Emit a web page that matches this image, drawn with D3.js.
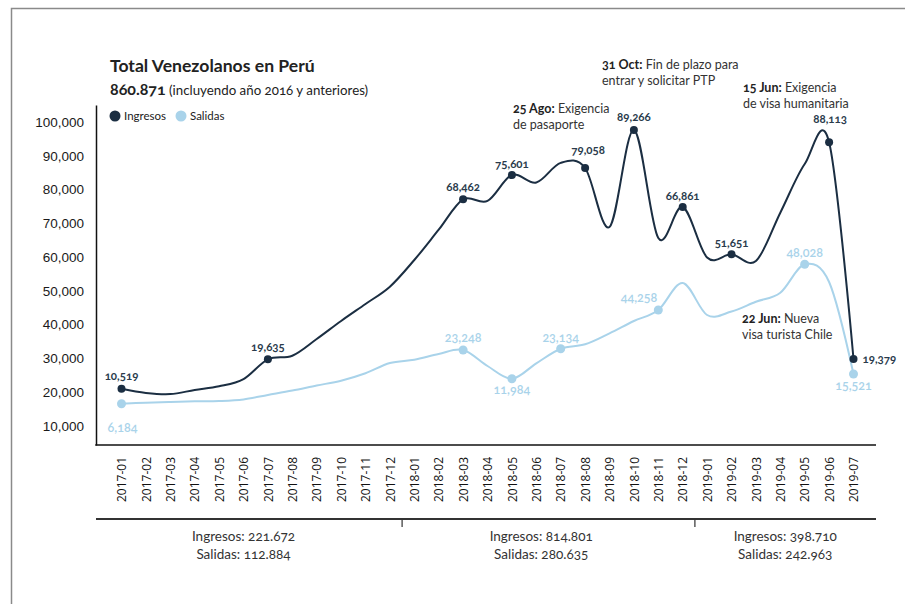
<!DOCTYPE html>
<html>
<head>
<meta charset="utf-8">
<script src="https://cdn.jsdelivr.net/npm/d3@7"></script>
<style>
  body { margin: 0; background: #fff; }
  svg { font-family: Lato, "Noto Sans", sans-serif; font-feature-settings: "onum"; }
  .xtick text { font-family: "Open Sans", sans-serif; font-feature-settings: normal; }
</style>
</head>
<body>
<svg id="chart" width="905" height="604"></svg>
<script>
const MONTHS = [
  "2017-01", "2017-02", "2017-03", "2017-04", "2017-05", "2017-06", "2017-07", "2017-08",
  "2017-09", "2017-10", "2017-11", "2017-12", "2018-01", "2018-02", "2018-03", "2018-04",
  "2018-05", "2018-06", "2018-07", "2018-08", "2018-09", "2018-10", "2018-11", "2018-12",
  "2019-01", "2019-02", "2019-03", "2019-04", "2019-05", "2019-06", "2019-07"
]
// plotted values read against the y axis
const INGRESOS = [
  21045, 19800, 19450, 20650, 21750, 23900, 29750, 30810, 35760, 41090, 46120, 51240,
  59150, 68110, 77110, 76630, 84310, 82090, 87900, 86380, 68910, 97630, 65650, 74830,
  59880, 60830, 58850, 73150, 87560, 93990, 29840
]
const SALIDAS = [
  16600, 16900, 17110, 17310, 17400, 17850, 19180, 20510, 21990, 23410, 25600, 28650,
  29630, 31320, 32500, 27760, 24000, 28560, 32880, 34190, 37440, 41080, 44340, 52330,
  42860, 43900, 46800, 49460, 57870, 52630, 25390
]
const Y_TICKS = [10000, 20000, 30000, 40000, 50000, 60000, 70000, 80000, 90000, 100000]

// labelled points: month index + printed label
const INGRESOS_MARKS = [0, 6, 14, 16, 19, 21, 23, 25, 29, 30]
const INGRESOS_LABELS = ["10,519", "19,635", "68,462", "75,601", "79,058", "89,266", "66,861", "51,651", "88,113", "19,379"]
const SALIDAS_MARKS = [0, 14, 16, 18, 22, 28, 30]
const SALIDAS_LABELS = ["6,184", "23,248", "11,984", "23,134", "44,258", "48,028", "15,521"]

const YEAR_GROUPS = ["2017", "2018", "2019"]
const YEAR_INGRESOS = ["221.672", "814.801", "398.710"]
const YEAR_SALIDAS = ["112.884", "280.635", "242.963"]

const ANNOTATIONS = [
  {bold: "25 Ago:", rest: " Exigencia", line2: "de pasaporte"},
  {bold: "31 Oct:", rest: " Fin de plazo para", line2: "entrar y solicitar PTP"},
  {bold: "15 Jun:", rest: " Exigencia", line2: "de visa humanitaria"},
  {bold: "22 Jun:", rest: " Nueva", line2: "visa turista Chile"}
]

const DARK = "#1b2e42"
const LIGHT = "#a9d3ea"

const svg = d3.select("#chart")

// outer frame
svg.append("path")
  .attr("d", "M11.5,604V8.5H905")
  .attr("fill", "none")
  .attr("stroke", "#8a8a8a")
  .attr("stroke-width", 1.5)

const x = d3.scalePoint().domain(MONTHS).range([121.5, 853.5])
const y = d3.scaleLinear().domain([4375, 105030]).range([445, 105])

// y axis (labels only + left rule)
const yAxis = svg.append("g")
  .attr("transform", "translate(96,0)")
  .call(d3.axisLeft(y).tickValues(Y_TICKS).tickSize(0).tickSizeOuter(0).tickPadding(12)
    .tickFormat(d3.format(",")))
yAxis.select(".domain").attr("stroke", "#111").attr("stroke-width", 1.5)
yAxis.selectAll("text").attr("font-size", 13.5).attr("fill", "#1a1a1a")

// bottom rule of the plot
svg.append("line")
  .attr("x1", 95.25).attr("x2", 876).attr("y1", 445).attr("y2", 445)
  .attr("stroke", "#111").attr("stroke-width", 1.5)

// month labels
const xAxis = svg.append("g")
  .attr("class", "xtick")
  .attr("transform", "translate(0,445)")
  .call(d3.axisBottom(x).tickSize(0))
xAxis.select(".domain").remove()
xAxis.selectAll("text")
  .attr("transform", "rotate(-90)")
  .attr("x", -12)
  .attr("y", 0)
  .attr("dy", "0.35em")
  .style("text-anchor", "end")
  .attr("font-size", 12)
  .attr("fill", "#111")

// year summary band
const step = x.step()
svg.append("line")
  .attr("x1", 96).attr("x2", 876).attr("y1", 519).attr("y2", 519)
  .attr("stroke", "#333").attr("stroke-width", 1.8)
;[11, 23].forEach((i) => {
  const xd = x(MONTHS[i]) + step / 2
  svg.append("line")
    .attr("x1", xd).attr("x2", xd).attr("y1", 519).attr("y2", 527)
    .attr("stroke", "#333").attr("stroke-width", 1.2)
})
const yearCenters = [5, 17.2, 27.2]
YEAR_GROUPS.forEach((yr, i) => {
  const cx = x(MONTHS[0]) + yearCenters[i] * step
  const t = svg.append("text")
    .attr("x", cx).attr("text-anchor", "middle")
    .attr("font-size", 13.5).attr("fill", "#333")
  t.append("tspan").attr("x", cx).attr("y", 541).text(`Ingresos: ${YEAR_INGRESOS[i]}`)
  t.append("tspan").attr("x", cx).attr("y", 559).text(`Salidas: ${YEAR_SALIDAS[i]}`)
})

// lines
const line = d3.line()
  .x((d, i) => x(MONTHS[i]))
  .y((d) => y(d))
  .curve(d3.curveCardinal)

svg.append("path")
  .datum(SALIDAS)
  .attr("d", line)
  .attr("fill", "none")
  .attr("stroke", LIGHT)
  .attr("stroke-width", 2)

svg.append("path")
  .datum(INGRESOS)
  .attr("d", line)
  .attr("fill", "none")
  .attr("stroke", DARK)
  .attr("stroke-width", 2)

// markers and labels
const darkLabelPos = [
  [0, -13, "middle"], [0, -12, "middle"], [0, -12, "middle"], [0, -11, "middle"],
  [3, -18, "middle"], [0, -13, "middle"], [0, -11, "middle"], [0, -11, "middle"],
  [1, -23, "middle"], [9, 0, "start"]
]
const lightLabelPos = [
  [1, 24, "middle"], [0, -12, "middle"], [0, 11, "middle"], [0, -11, "middle"],
  [-1, -12, "end"], [0, -12, "middle"], [0, 12, "middle"]
]

svg.append("g")
  .selectAll("circle")
  .data(SALIDAS_MARKS)
  .join("circle")
  .attr("cx", (i) => x(MONTHS[i]))
  .attr("cy", (i) => y(SALIDAS[i]))
  .attr("r", 4.5)
  .attr("fill", LIGHT)

svg.append("g")
  .selectAll("text")
  .data(SALIDAS_MARKS)
  .join("text")
  .attr("x", (i, k) => x(MONTHS[i]) + lightLabelPos[k][0])
  .attr("y", (i, k) => y(SALIDAS[i]) + lightLabelPos[k][1])
  .attr("dy", "0.35em")
  .attr("text-anchor", (i, k) => lightLabelPos[k][2])
  .attr("font-size", 12.5)
  .attr("font-weight", 600)
  .attr("fill", LIGHT)
  .text((i, k) => SALIDAS_LABELS[k])

svg.append("g")
  .selectAll("circle")
  .data(INGRESOS_MARKS)
  .join("circle")
  .attr("cx", (i) => x(MONTHS[i]))
  .attr("cy", (i) => y(INGRESOS[i]))
  .attr("r", 4)
  .attr("fill", DARK)

svg.append("g")
  .selectAll("text")
  .data(INGRESOS_MARKS)
  .join("text")
  .attr("x", (i, k) => x(MONTHS[i]) + darkLabelPos[k][0])
  .attr("y", (i, k) => y(INGRESOS[i]) + darkLabelPos[k][1])
  .attr("dy", "0.35em")
  .attr("text-anchor", (i, k) => darkLabelPos[k][2])
  .attr("font-size", 11.5)
  .attr("font-weight", 700)
  .attr("fill", "#2a3b4c")
  .text((i, k) => INGRESOS_LABELS[k])

// annotations
const annotationPos = [[513, 109], [602, 65], [743, 88], [742, 319]]
ANNOTATIONS.forEach((a, i) => {
  const [ax, ay] = annotationPos[i]
  const t = svg.append("text")
    .attr("x", ax).attr("y", ay).attr("dy", "0.35em")
    .attr("font-size", 12.5).attr("fill", "#333")
  t.append("tspan").attr("font-weight", 700).attr("fill", "#222").text(a.bold)
  t.append("tspan").text(a.rest)
  svg.append("text")
    .attr("x", ax).attr("y", ay + 16).attr("dy", "0.35em")
    .attr("font-size", 12.5).attr("fill", "#333")
    .text(a.line2)
})

// title
svg.append("text")
  .attr("x", 110).attr("y", 72)
  .attr("font-size", 17.6).attr("font-weight", 700).attr("fill", "#222")
  .text("Total Venezolanos en Perú")
const sub = svg.append("text")
  .attr("x", 110).attr("y", 95)
  .attr("fill", "#222")
sub.append("tspan").attr("font-size", 16).attr("font-weight", 700).text("860.871")
sub.append("tspan").attr("font-size", 13.3).text(" (incluyendo año 2016 y anteriores)")

// legend
const legend = svg.append("g").attr("transform", "translate(115,116)")
;[["Ingresos", DARK, 0], ["Salidas", LIGHT, 66]].forEach(([name, color, dx]) => {
  legend.append("circle").attr("cx", dx).attr("cy", 0).attr("r", 5.5).attr("fill", color)
  legend.append("text")
    .attr("x", dx + 9).attr("y", 0).attr("dy", "0.35em")
    .attr("font-size", 11.5).attr("fill", "#222")
    .text(name)
})
</script>
</body>
</html>
